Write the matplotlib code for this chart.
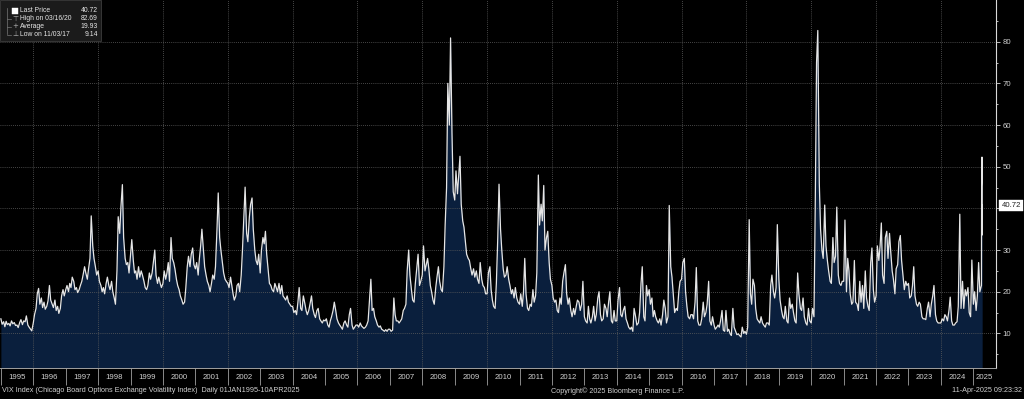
import numpy as np
import pandas as pd
import matplotlib
matplotlib.use('Agg')
import matplotlib.pyplot as plt
from matplotlib.patches import Rectangle

plt.rcParams['font.family'] = ['Liberation Sans', 'DejaVu Sans']

# VIX readings, two per month (1st / 15th), one list per year
vix_1995 = [13.5, 12.2, 12.8, 11.6, 12.9, 12.1, 12.4, 11.8, 13.0, 12.3, 12.6, 11.9, 12.0, 11.4, 12.6, 13.3, 12.1, 13.0, 12.8, 14.2, 12.0, 11.5, 11.0, 10.6]
vix_1996 = [12.5, 14.5, 16.0, 19.5, 20.8, 17.0, 18.5, 16.2, 17.5, 15.8, 16.5, 17.8, 21.5, 18.0, 17.0, 16.2, 18.0, 15.5, 16.5, 14.8, 16.0, 19.0, 20.5, 19.0]
vix_1997 = [20.5, 21.5, 20.0, 22.0, 21.0, 23.5, 22.5, 20.5, 21.0, 19.8, 20.5, 21.5, 22.5, 24.0, 26.0, 24.5, 23.0, 25.5, 28.0, 38.2, 31.0, 28.0, 26.0, 24.0]
vix_1998 = [25.0, 22.5, 21.5, 20.0, 21.0, 19.5, 22.0, 23.5, 21.5, 20.5, 22.5, 20.0, 18.5, 17.0, 25.0, 38.0, 34.0, 40.5, 45.7, 33.0, 28.0, 26.5, 27.0, 24.5]
vix_1999 = [29.0, 32.5, 27.5, 24.5, 25.0, 23.0, 26.0, 23.5, 25.0, 24.0, 22.5, 21.0, 20.5, 21.5, 24.5, 23.0, 24.5, 27.0, 30.0, 24.0, 22.0, 23.5, 22.0, 21.0]
vix_2000 = [22.0, 25.0, 23.0, 24.5, 27.0, 22.5, 33.0, 28.0, 27.0, 25.5, 23.0, 21.5, 20.5, 19.0, 18.0, 17.0, 17.5, 21.0, 26.0, 28.5, 26.0, 29.0, 30.5, 26.5]
vix_2001 = [25.5, 27.0, 24.0, 28.0, 31.0, 35.0, 30.0, 26.0, 24.0, 22.5, 21.5, 20.0, 22.0, 24.0, 23.0, 26.0, 35.0, 43.7, 33.0, 30.0, 27.0, 24.5, 23.0, 22.5]
vix_2002 = [22.0, 21.0, 23.5, 21.5, 19.5, 18.0, 19.0, 21.5, 22.0, 20.0, 24.0, 30.0, 38.0, 45.1, 34.0, 32.0, 38.0, 41.0, 42.5, 35.0, 30.0, 27.5, 26.5, 29.0]
vix_2003 = [24.5, 30.0, 33.0, 31.5, 34.5, 29.0, 25.0, 22.0, 21.5, 20.5, 20.0, 22.0, 21.0, 20.0, 22.0, 19.5, 21.5, 19.0, 18.5, 18.0, 19.0, 17.5, 17.0, 16.5]
vix_2004 = [16.5, 15.0, 15.5, 14.5, 17.5, 21.0, 16.0, 15.5, 19.0, 17.5, 15.5, 14.5, 15.5, 17.0, 19.0, 16.0, 14.5, 13.8, 15.5, 16.0, 13.5, 13.0, 12.5, 13.2]
vix_2005 = [13.0, 13.5, 12.0, 11.5, 13.0, 14.0, 15.5, 17.5, 15.5, 13.5, 12.5, 12.0, 11.5, 11.0, 12.5, 13.0, 12.0, 11.5, 14.5, 16.0, 12.0, 11.0, 11.5, 12.0]
vix_2006 = [12.0, 11.5, 12.5, 11.8, 11.5, 11.2, 11.5, 12.0, 13.0, 17.5, 23.0, 15.5, 16.0, 14.0, 13.0, 12.0, 11.5, 11.8, 11.0, 10.8, 10.5, 10.9, 10.5, 11.0]
vix_2007 = [11.0, 10.5, 10.8, 18.5, 14.5, 13.0, 13.0, 12.5, 13.0, 13.5, 15.5, 16.0, 17.0, 25.0, 30.0, 24.0, 20.5, 18.0, 17.5, 22.0, 26.0, 29.0, 21.5, 22.5]
vix_2008 = [24.0, 31.0, 25.0, 26.5, 28.0, 25.5, 21.5, 20.0, 18.0, 17.0, 21.0, 23.5, 26.0, 22.5, 20.5, 20.0, 26.0, 36.0, 45.0, 70.0, 60.0, 80.9, 58.0, 44.0]
vix_2009 = [42.0, 49.0, 43.5, 48.0, 52.5, 41.0, 37.0, 35.5, 32.0, 29.0, 28.0, 27.5, 25.5, 24.0, 25.5, 23.5, 25.0, 23.0, 22.0, 27.0, 23.0, 21.5, 21.0, 19.5]
vix_2010 = [19.5, 24.5, 26.0, 20.5, 18.0, 16.5, 16.0, 22.0, 33.0, 45.8, 35.0, 30.0, 25.5, 23.5, 24.0, 26.0, 23.0, 21.5, 19.5, 20.5, 18.5, 21.0, 18.5, 17.5]
vix_2011 = [17.0, 19.5, 16.5, 20.0, 28.0, 19.5, 16.0, 15.5, 17.0, 16.5, 20.5, 17.5, 19.0, 24.5, 48.0, 36.0, 41.0, 37.0, 45.5, 30.0, 33.0, 34.5, 27.0, 23.0]
vix_2012 = [21.5, 18.5, 17.5, 18.0, 15.5, 15.0, 18.5, 17.0, 22.5, 24.5, 26.5, 19.5, 17.0, 18.5, 15.5, 14.0, 16.0, 14.5, 16.5, 18.0, 17.5, 15.5, 17.0, 22.5]
vix_2013 = [14.0, 13.0, 12.5, 16.5, 13.5, 12.5, 14.0, 16.5, 13.0, 14.5, 18.5, 20.0, 14.5, 13.0, 13.5, 17.0, 16.0, 14.0, 17.5, 20.0, 13.0, 12.5, 15.5, 13.0]
vix_2014 = [13.0, 18.0, 21.0, 14.5, 14.0, 15.5, 16.5, 13.5, 12.5, 11.5, 11.0, 11.5, 10.5, 16.0, 14.0, 12.0, 12.5, 15.0, 22.0, 26.0, 14.0, 13.0, 21.5, 19.0]
vix_2015 = [20.5, 17.0, 18.5, 14.0, 15.5, 14.0, 13.0, 12.5, 13.5, 12.0, 14.5, 18.0, 16.0, 12.5, 14.0, 40.7, 26.0, 23.5, 19.0, 15.0, 16.0, 15.5, 20.0, 22.5]
vix_2016 = [23.0, 27.0, 28.0, 20.0, 16.5, 14.0, 13.5, 14.5, 14.5, 13.5, 17.5, 25.8, 13.0, 12.0, 12.0, 13.5, 17.5, 14.0, 15.0, 17.0, 22.5, 13.0, 12.0, 14.0]
vix_2017 = [12.0, 11.0, 11.5, 12.0, 11.5, 13.0, 15.5, 10.8, 10.5, 15.5, 10.5, 11.0, 9.9, 9.5, 16.0, 11.5, 10.5, 9.7, 9.9, 9.5, 9.14, 11.5, 10.0, 10.5]
vix_2018 = [9.8, 11.5, 37.3, 19.5, 17.0, 23.0, 21.5, 16.0, 13.5, 13.0, 12.5, 14.0, 12.5, 12.0, 11.5, 12.5, 12.5, 12.0, 21.5, 24.0, 20.0, 18.5, 21.0, 36.1]
vix_2019 = [23.0, 18.0, 15.5, 14.0, 13.5, 16.5, 13.0, 12.5, 18.5, 16.0, 17.0, 15.0, 13.0, 12.5, 24.5, 19.5, 16.0, 15.5, 18.5, 14.0, 12.5, 12.0, 16.0, 13.0]
vix_2020 = [12.5, 16.0, 14.0, 40.0, 75.0, 82.69, 46.0, 35.0, 30.0, 28.0, 40.8, 31.0, 27.5, 25.0, 22.5, 22.0, 33.0, 27.0, 28.5, 40.3, 24.0, 22.0, 21.5, 22.5]
vix_2021 = [22.5, 37.2, 20.0, 28.0, 25.0, 19.5, 17.0, 17.5, 27.5, 17.5, 17.0, 15.5, 22.5, 17.5, 21.5, 16.0, 25.0, 18.5, 16.5, 15.5, 27.0, 30.5, 20.5, 17.5]
vix_2022 = [19.0, 31.0, 27.5, 31.0, 36.5, 24.0, 22.0, 33.0, 34.5, 28.0, 34.0, 29.5, 25.0, 23.0, 19.5, 25.5, 26.5, 32.0, 33.5, 27.5, 23.5, 20.5, 22.5, 21.5]
vix_2023 = [22.0, 18.5, 19.0, 21.5, 26.0, 19.0, 17.0, 16.5, 17.5, 17.0, 14.0, 13.5, 13.5, 13.3, 16.0, 17.5, 14.0, 17.0, 19.0, 21.5, 14.5, 13.0, 12.5, 12.5]
vix_2024 = [12.5, 13.5, 13.0, 14.5, 14.0, 13.0, 15.5, 18.7, 13.0, 12.0, 12.0, 12.5, 12.8, 16.5, 38.6, 16.0, 22.5, 16.0, 20.5, 19.0, 21.0, 15.0, 14.0, 27.6]
vix_2025 = [17.0, 20.0, 15.5, 19.0, 27.0, 20.0]

# daily closes for the April 2025 selloff
tail_dates = ['2025-04-02', '2025-04-03', '2025-04-04', '2025-04-07', '2025-04-08', '2025-04-09', '2025-04-10']
tail_vix = [21.5, 30.0, 45.3, 47.0, 52.3, 33.6, 40.72]

# legend stats as printed on the chart
last_price = 40.72
high_label, high_val = 'High on 03/16/20', 82.69
avg_val = 19.93
low_label, low_val = 'Low on 11/03/17', 9.14

years = list(range(1995, 2026))
semi = (vix_1995 + vix_1996 + vix_1997 + vix_1998 + vix_1999 + vix_2000 + vix_2001
        + vix_2002 + vix_2003 + vix_2004 + vix_2005 + vix_2006 + vix_2007 + vix_2008
        + vix_2009 + vix_2010 + vix_2011 + vix_2012 + vix_2013 + vix_2014 + vix_2015
        + vix_2016 + vix_2017 + vix_2018 + vix_2019 + vix_2020 + vix_2021 + vix_2022
        + vix_2023 + vix_2024 + vix_2025)
dates = pd.date_range('1995-01-01', periods=len(semi), freq='SMS')
dates = dates.append(pd.DatetimeIndex(tail_dates))
vals = np.array(semi + tail_vix)

W, H = 1024, 399
fig = plt.figure(figsize=(W / 100, H / 100), dpi=100, facecolor='black')
ax = fig.add_axes([0.0, 31 / H, 996 / W, 368 / H])
ax.set_facecolor('black')

ymin, ymax = 1.7, 90
x0, x1 = pd.Timestamp('1994-12-22'), pd.Timestamp('2025-09-13')
ax.set_xlim(x0, x1)
ax.set_ylim(ymin, ymax)

ax.fill_between(dates, vals, ymin, color='#0a1f3d', lw=0, zorder=1)
ax.plot(dates, vals, color='#e6e6e6', lw=0.9, zorder=3)

# dotted grid
for yv in range(10, 90, 10):
    ax.axhline(yv, color='#5e5e5e', lw=0.6, ls=(0, (1, 1.5)), zorder=2)
for yr in range(1996, 2026, 2):
    ax.axvline(pd.Timestamp(f'{yr}-01-01'), color='#5e5e5e', lw=0.6, ls=(0, (1, 1.5)), zorder=2)

for s in ['top', 'left']:
    ax.spines[s].set_visible(False)
ax.spines['bottom'].set_color('#a0a0a0')
ax.spines['bottom'].set_linewidth(0.7)
ax.spines['right'].set_color('#d8d8d8')
ax.spines['right'].set_linewidth(0.8)

# year separators + centred year labels
ax.set_xticks([pd.Timestamp(f'{y}-01-01') for y in years])
ax.set_xticklabels([])
mids = [pd.Timestamp(f'{y}-07-02') for y in years[:-1]] + [pd.Timestamp('2025-05-08')]
ax.set_xticks(mids, minor=True)
ax.set_xticklabels([str(y) for y in years], minor=True)
ax.tick_params(axis='x', which='major', length=12.5, width=0.6, color='#a0a0a0', direction='out')
ax.tick_params(axis='x', which='minor', length=0, pad=4.5, labelsize=5.6, labelcolor='#d0d0d0')

ax.yaxis.tick_right()
ax.set_yticks(range(10, 90, 10))
ax.set_yticklabels(['' if v == 40 else str(v) for v in range(10, 90, 10)])
ax.set_yticks(range(5, 90, 10), minor=True)
ax.tick_params(axis='y', which='major', length=3, width=0.6, color='#d8d8d8', pad=1.5,
               labelsize=5.6, labelcolor='#d0d0d0')
ax.tick_params(axis='y', which='minor', length=1.5, width=0.6, color='#d8d8d8')

# last price tag
ax.annotate(f'{last_price:.2f}', xy=(1, last_price), xycoords=ax.get_yaxis_transform(),
            xytext=(4, 0), textcoords='offset points', ha='left', va='center',
            fontsize=5.6, color='#222222',
            bbox=dict(boxstyle='square,pad=0.3', fc='white', ec='white', lw=0.3))

# legend box, top-left
def fx(px): return px / W
def fy(py): return 1 - py / H

fig.patches.append(Rectangle((fx(0), fy(41)), fx(101), 41 / H, transform=fig.transFigure,
                             fc='#1b1b1b', ec='#3c3c3c', lw=0.6, zorder=5))
fig.patches.append(Rectangle((fx(12), fy(13.5)), fx(6), 6 / H, transform=fig.transFigure,
                             fc='white', ec='white', lw=0.3, zorder=6))
fig.lines.append(plt.Line2D([fx(7), fx(7)], [fy(8), fy(34)], transform=fig.transFigure,
                            color='#777777', lw=0.5, zorder=6))
rows = [('Last Price', f'{last_price:.2f}', None),
        (high_label, f'{high_val:.2f}', '\u22a4'),
        ('Average', f'{avg_val:.2f}', '+'),
        (low_label, f'{low_val:.2f}', '\u22a5')]
for i, (lab, val, glyph) in enumerate(rows):
    yy = fy(10.5 + 8 * i)
    fig.text(fx(19.5), yy, lab, fontsize=4.9, color='#e6e6e6', va='center', ha='left', zorder=7)
    fig.text(fx(98), yy, val, fontsize=4.9, color='#e6e6e6', va='center', ha='right', zorder=7)
    if glyph:
        fig.text(fx(15), yy, glyph, fontsize=5, color='#b0b0b0', va='center', ha='center',
                 family='DejaVu Sans', zorder=7)
        fig.lines.append(plt.Line2D([fx(7), fx(11)], [yy, yy], transform=fig.transFigure,
                                    color='#777777', lw=0.5, zorder=6))

# footer
fig.text(fx(2), fy(391), 'VIX Index (Chicago Board Options Exchange Volatility Index)  Daily 01JAN1995-10APR2025',
         fontsize=5.2, color='#cfcfcf', ha='left', va='center')
fig.text(fx(618), fy(391), 'Copyright\u00a9 2025 Bloomberg Finance L.P.',
         fontsize=5.2, color='#cfcfcf', ha='center', va='center')
fig.text(fx(1022), fy(391), '11-Apr-2025 09:23:32',
         fontsize=5.2, color='#cfcfcf', ha='right', va='center')

fig.savefig('out.png', dpi=100, facecolor='black')
